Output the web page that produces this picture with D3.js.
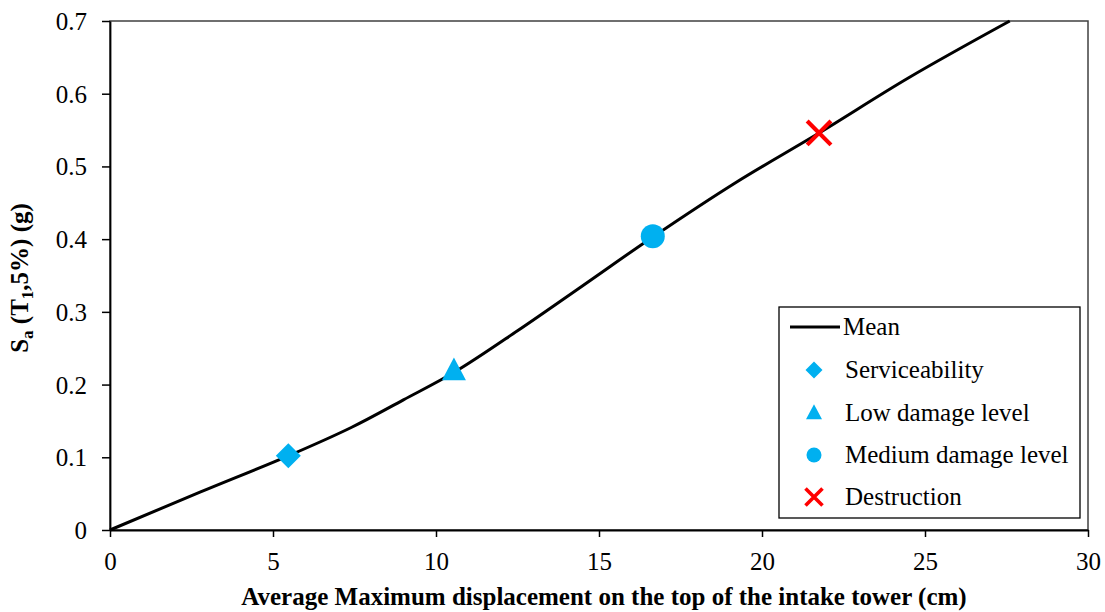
<!DOCTYPE html>
<html>
<head>
<meta charset="utf-8">
<script src="https://cdn.jsdelivr.net/npm/d3@7"></script>
<style>
  html, body { margin: 0; padding: 0; background: #fff; }
  svg { display: block; }
  svg text { font-family: "Liberation Serif", "Times New Roman", serif; fill: #000; }
</style>
</head>
<body>
<svg id="chart" width="1105" height="612"></svg>
<script>
// Mean curve: displacement (cm) vs spectral acceleration (g)
const meanX = [0, 2.76, 5.47, 7.4, 9.0, 10.6, 12.5, 14.5, 16.65, 19.2, 21.75, 24.5, 27.6];
const meanY = [0, 0.052, 0.102, 0.141, 0.179, 0.218, 0.274, 0.336, 0.403, 0.478, 0.546, 0.622, 0.7];

// Performance levels
const levelNames = ["Serviceability", "Low damage level", "Medium damage level", "Destruction"];
const levelX = [5.47, 10.55, 16.65, 21.75];
const levelY = [0.102, 0.22, 0.404, 0.546];
const levelShape = ["diamond", "triangle", "circle", "cross"];

const xTicks = [0, 5, 10, 15, 20, 25, 30];
const yTicks = [0, 0.1, 0.2, 0.3, 0.4, 0.5, 0.6, 0.7];

const SERIF = "'Liberation Serif', 'Times New Roman', serif";
const svg = d3.select("#chart");
const m = { left: 110, right: 1088, top: 21, bottom: 530 };

const x = d3.scaleLinear().domain([0, 30]).range([m.left, m.right]);
const y = d3.scaleLinear().domain([0, 0.7]).range([m.bottom, m.top]);

const CYAN = "#00B0F0", RED = "#FF0000";

// plot frame
svg.append("rect")
  .attr("x", m.left).attr("y", m.top)
  .attr("width", m.right - m.left).attr("height", m.bottom - m.top)
  .attr("fill", "none").attr("stroke", "#404040").attr("stroke-width", 1.5);

// axes
const xAxis = svg.append("g").attr("transform", `translate(0,${m.bottom})`)
  .call(d3.axisBottom(x).tickValues(xTicks).tickSize(7).tickSizeOuter(0).tickFormat(d3.format("d")));
const yAxis = svg.append("g").attr("transform", `translate(${m.left},0)`)
  .call(d3.axisLeft(y).tickValues(yTicks).tickSize(8).tickSizeOuter(0)
    .tickFormat(d => d === 0 ? "0" : d3.format(".1f")(d)));

[xAxis, yAxis].forEach(g => {
  g.attr("font-family", SERIF).attr("font-size", 25);
  g.select(".domain").attr("stroke", "#000").attr("stroke-width", 1.8);
  g.selectAll(".tick line").attr("stroke", "#000").attr("stroke-width", 1.5);
  g.selectAll(".tick text").attr("fill", "#000");
});
xAxis.selectAll(".tick text").attr("dy", 0).attr("y", 40);
yAxis.selectAll(".tick text").attr("x", -23).attr("dy", "0.34em");

// mean curve
const line = d3.line().x(d => x(d[0])).y(d => y(d[1])).curve(d3.curveCatmullRom.alpha(0.5));
svg.append("path")
  .datum(meanX.map((v, i) => [v, meanY[i]]))
  .attr("d", line)
  .attr("fill", "none").attr("stroke", "#000").attr("stroke-width", 3);

// marker drawing
function drawMarker(g, shape, cx, cy, s) {
  if (shape === "diamond") {
    g.append("path").attr("d", `M${cx},${cy - s}L${cx + s},${cy}L${cx},${cy + s}L${cx - s},${cy}Z`).attr("fill", CYAN);
  } else if (shape === "triangle") {
    const h = s * 1.9, w = s * 1.0;
    g.append("path").attr("d", `M${cx},${cy - h * 0.55}L${cx + w},${cy + h * 0.45}L${cx - w},${cy + h * 0.45}Z`).attr("fill", CYAN);
  } else if (shape === "circle") {
    g.append("circle").attr("cx", cx).attr("cy", cy).attr("r", s).attr("fill", CYAN);
  } else {
    const k = s * 0.85;
    g.append("path").attr("d", `M${cx - k},${cy - k}L${cx + k},${cy + k}M${cx + k},${cy - k}L${cx - k},${cy + k}`)
      .attr("stroke", RED).attr("stroke-width", Math.max(3.6, s * 0.3)).attr("fill", "none");
  }
}

const markers = svg.append("g");
const plotSize = { diamond: 12.5, triangle: 12, circle: 12, cross: 14 };
levelNames.forEach((n, i) => drawMarker(markers, levelShape[i], x(levelX[i]), y(levelY[i]), plotSize[levelShape[i]]));

// legend
const lg = svg.append("g").attr("font-family", SERIF).attr("font-size", 25);
lg.append("rect").attr("x", 779).attr("y", 307).attr("width", 301).attr("height", 211)
  .attr("fill", "#fff").attr("stroke", "#000").attr("stroke-width", 1.3);
const rowY = [327, 370, 412.5, 455, 497];
const textX = 845;
lg.append("line").attr("x1", 790).attr("x2", 840).attr("y1", rowY[0]).attr("y2", rowY[0])
  .attr("stroke", "#000").attr("stroke-width", 3);
lg.append("text").attr("x", textX - 2).attr("y", rowY[0]).attr("dy", "0.33em").text("Mean");
const legSize = { diamond: 8.5, triangle: 8, circle: 7.5, cross: 10 };
levelNames.forEach((n, i) => {
  drawMarker(lg, levelShape[i], 814, rowY[i + 1], legSize[levelShape[i]]);
  lg.append("text").attr("x", textX).attr("y", rowY[i + 1]).attr("dy", "0.33em").text(n);
});

// axis titles
svg.append("text").attr("x", (240 + 968) / 2).attr("y", 605)
  .attr("text-anchor", "middle").attr("font-family", SERIF).attr("font-size", 25).attr("font-weight", "bold")
  .text("Average Maximum displacement on the top of the intake tower (cm)");

const yt = svg.append("text").attr("transform", "translate(28,278) rotate(-90)")
  .attr("text-anchor", "middle").attr("font-family", SERIF).attr("font-size", 25).attr("font-weight", "bold");
yt.append("tspan").text("S");
yt.append("tspan").attr("dy", 5).attr("font-size", 17).text("a");
yt.append("tspan").attr("dy", -5).text(" (T");
yt.append("tspan").attr("dy", 5).attr("font-size", 17).text("1");
yt.append("tspan").attr("dy", -5).text(",5%) (g)");
</script>
</body>
</html>
